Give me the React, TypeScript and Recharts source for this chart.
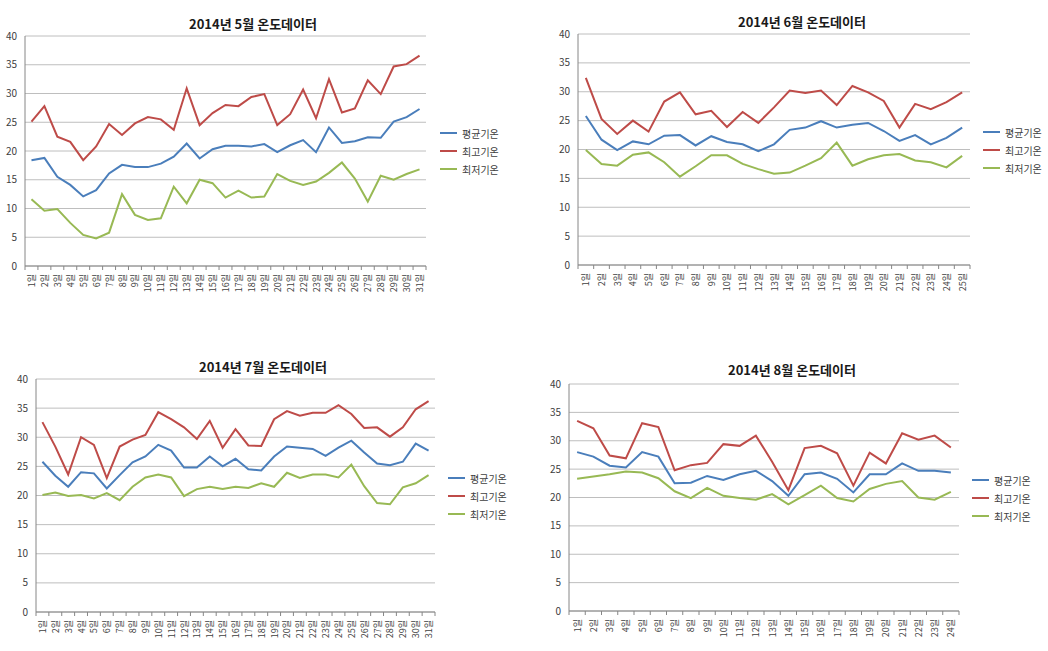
import React from 'react';
import { LineChart, Line, XAxis, YAxis, CartesianGrid, Legend } from 'recharts';

const FONT = '"Noto Sans CJK KR", "Noto Sans", sans-serif';

const seriesNames = ['평균기온', '최고기온', '최저기온'];
const seriesColors = ['#4A7EBB', '#BE4B48', '#98B954'];
const yTicks = [0, 5, 10, 15, 20, 25, 30, 35, 40];

const mayDays = ['1일','2일','3일','4일','5일','6일','7일','8일','9일','10일','11일','12일','13일','14일','15일','16일','17일','18일','19일','20일','21일','22일','23일','24일','25일','26일','27일','28일','29일','30일','31일'];
const mayAvg = [18.4,18.8,15.5,14.1,12.1,13.2,16.1,17.6,17.2,17.2,17.8,19.0,21.3,18.7,20.3,20.9,20.9,20.8,21.2,19.8,21.0,21.9,19.8,24.1,21.4,21.7,22.4,22.3,25.1,25.9,27.3];
const mayMax = [25.1,27.8,22.5,21.6,18.4,20.8,24.7,22.8,24.8,25.9,25.5,23.7,30.9,24.5,26.6,28.0,27.8,29.4,29.9,24.5,26.4,30.7,25.7,32.5,26.7,27.4,32.3,29.9,34.7,35.1,36.6];
const mayMin = [11.6,9.6,9.9,7.5,5.4,4.8,5.8,12.5,8.9,8.0,8.3,13.8,10.9,15.0,14.4,11.9,13.1,11.9,12.1,16.0,14.8,14.1,14.7,16.2,18.0,15.2,11.2,15.7,15.0,16.0,16.8];

const junDays = ['1일','2일','3일','4일','5일','6일','7일','8일','9일','10일','11일','12일','13일','14일','15일','16일','17일','18일','19일','20일','21일','22일','23일','24일','25일'];
const junAvg = [25.8,21.7,19.9,21.4,20.9,22.4,22.5,20.7,22.3,21.3,20.9,19.7,20.9,23.4,23.8,24.9,23.8,24.3,24.6,23.2,21.5,22.5,20.9,22.0,23.8];
const junMax = [32.4,25.3,22.7,25.0,23.1,28.3,29.9,26.1,26.7,23.9,26.5,24.6,27.3,30.2,29.8,30.2,27.7,31.0,29.9,28.4,23.8,27.9,27.0,28.2,29.9];
const junMin = [19.9,17.5,17.2,19.1,19.5,17.8,15.3,17.1,19.0,19.0,17.5,16.6,15.8,16.0,17.2,18.5,21.2,17.2,18.3,19.0,19.2,18.1,17.8,16.9,18.9];

const julDays = ['1일','2일','3일','4일','5일','6일','7일','8일','9일','10일','11일','12일','13일','14일','15일','16일','17일','18일','19일','20일','21일','22일','23일','24일','25일','26일','27일','28일','29일','30일','31일'];
const julAvg = [25.8,23.4,21.5,24.0,23.8,21.2,23.5,25.7,26.7,28.7,27.7,24.8,24.8,26.7,25.0,26.3,24.5,24.3,26.7,28.4,28.2,28.0,26.8,28.2,29.4,27.4,25.5,25.2,25.8,28.9,27.7];
const julMax = [32.6,28.4,23.6,30.0,28.7,23.0,28.4,29.6,30.4,34.3,33.1,31.7,29.7,32.8,28.2,31.4,28.6,28.5,33.1,34.5,33.7,34.2,34.2,35.5,34.0,31.6,31.7,30.1,31.7,34.8,36.2];
const julMin = [20.1,20.5,19.9,20.1,19.5,20.4,19.2,21.5,23.1,23.6,23.1,19.9,21.1,21.5,21.1,21.5,21.3,22.1,21.5,23.9,23.0,23.6,23.6,23.1,25.3,21.6,18.7,18.5,21.4,22.1,23.5];

const augDays = ['1일','2일','3일','4일','5일','6일','7일','8일','9일','10일','11일','12일','13일','14일','15일','16일','17일','18일','19일','20일','21일','22일','23일','24일'];
const augAvg = [28.0,27.2,25.6,25.3,28.0,27.2,22.5,22.6,23.8,23.1,24.1,24.7,22.9,20.3,24.1,24.4,23.3,20.9,24.1,24.1,26.0,24.7,24.7,24.4];
const augMax = [33.5,32.2,27.4,26.9,33.1,32.4,24.8,25.7,26.1,29.4,29.1,30.9,26.3,21.3,28.7,29.1,27.8,22.1,27.9,26.0,31.3,30.2,30.9,28.8];
const augMin = [23.3,23.7,24.1,24.6,24.4,23.4,21.1,19.9,21.7,20.3,19.9,19.6,20.6,18.8,20.4,22.1,19.9,19.3,21.5,22.4,22.9,20.0,19.6,21.0];

const buildRows = (days: string[], avg: number[], max: number[], min: number[]) =>
  days.map((d, i) => ({ day: d, avg: avg[i], max: max[i], min: min[i] }));

type PanelProps = {
  left: number; top: number; width: number; height: number;
  plotLeft: number; plotRight: number; plotTop: number; plotBottom: number;
  title: string; titleX: number; titleY: number;
  legendX: number; legendY: number;
  rows: any[];
};

const LegendContent = () => (
  <div style={{ fontFamily: FONT, fontSize: 10, color: '#404040' }}>
    {seriesNames.map((n, i) => (
      <div key={n} style={{ display: 'flex', alignItems: 'center', height: 18, whiteSpace: 'nowrap' }}>
        <span style={{ display: 'inline-block', width: 17, height: 2, background: seriesColors[i], marginRight: 5 }} />
        <span>{n}</span>
      </div>
    ))}
  </div>
);

const Panel = (p: PanelProps) => {
  const plotW = p.width - p.plotLeft - p.plotRight;
  const band = plotW / p.rows.length;
  const XTick = (props: any) => {
    const { x, y, payload, index } = props;
    return (
      <g>
        {index === 0 && (
          <line x1={x - band / 2} x2={x - band / 2} y1={y} y2={y + 4} stroke="#868686" />
        )}
        <line x1={x + band / 2} x2={x + band / 2} y1={y} y2={y + 4} stroke="#868686" />
        <text
          transform={`translate(${x},${y + 8}) rotate(-90)`}
          textAnchor="end"
          dominantBaseline="central"
          fontSize={9}
          fill="#404040"
          fontFamily={FONT}
        >
          {payload.value}
        </text>
      </g>
    );
  };
  return (
    <div style={{ position: 'absolute', left: p.left, top: p.top, width: p.width, height: p.height }}>
      <div
        style={{
          position: 'absolute', left: p.titleX, top: p.titleY, transform: 'translate(-50%, -50%)',
          fontFamily: FONT, fontWeight: 700, fontSize: 13, color: '#1a1a1a', whiteSpace: 'nowrap',
        }}
      >
        {p.title}
      </div>
      <LineChart
        width={p.width}
        height={p.height}
        data={p.rows}
        margin={{ top: p.plotTop, right: p.plotRight, left: 0, bottom: 0 }}
        style={{ position: 'absolute', left: 0, top: 0 }}
      >
        <CartesianGrid vertical={false} stroke="#BEBEBE" strokeWidth={1} />
        <XAxis
          dataKey="day"
          interval={0}
          height={p.height - p.plotBottom}
          padding={{ left: band / 2, right: band / 2 }}
          tickLine={false}
          tickSize={0}
          tickMargin={0}
          axisLine={{ stroke: '#868686' }}
          tick={<XTick />}
        />
        <YAxis
          width={p.plotLeft}
          domain={[0, 40]}
          ticks={yTicks}
          interval={0}
          tickLine={false}
          tickSize={0}
          tickMargin={8}
          axisLine={{ stroke: '#868686' }}
          tick={{ fontSize: 10, fill: '#404040', fontFamily: FONT }}
        />
        <Legend
          layout="vertical"
          align="center"
          verticalAlign="middle"
          content={<LegendContent />}
          wrapperStyle={{ left: p.legendX, top: p.legendY, width: 80, height: 60 }}
        />
        <Line type="linear" dataKey="avg" name={seriesNames[0]} stroke={seriesColors[0]} strokeWidth={2} dot={false} isAnimationActive={false} />
        <Line type="linear" dataKey="max" name={seriesNames[1]} stroke={seriesColors[1]} strokeWidth={2} dot={false} isAnimationActive={false} />
        <Line type="linear" dataKey="min" name={seriesNames[2]} stroke={seriesColors[2]} strokeWidth={2} dot={false} isAnimationActive={false} />
      </LineChart>
    </div>
  );
};

export default function App() {
  return (
    <div style={{ position: 'absolute', left: 0, top: 0, width: 1048, height: 651, background: '#fff', overflow: 'hidden' }}>
      <Panel
        left={0} top={0} width={520} height={330}
        plotLeft={25} plotRight={94} plotTop={36} plotBottom={266}
        title="2014년 5월 온도데이터" titleX={253} titleY={23}
        legendX={440} legendY={124}
        rows={buildRows(mayDays, mayAvg, mayMax, mayMin)}
      />
      <Panel
        left={520} top={0} width={528} height={330}
        plotLeft={58} plotRight={78} plotTop={34} plotBottom={265}
        title="2014년 6월 온도데이터" titleX={282} titleY={21}
        legendX={463} legendY={123}
        rows={buildRows(junDays, junAvg, junMax, junMin)}
      />
      <Panel
        left={0} top={340} width={520} height={311}
        plotLeft={36} plotRight={85} plotTop={39} plotBottom={272}
        title="2014년 7월 온도데이터" titleX={263} titleY={26}
        legendX={448} legendY={129}
        rows={buildRows(julDays, julAvg, julMax, julMin)}
      />
      <Panel
        left={520} top={340} width={528} height={311}
        plotLeft={49} plotRight={89} plotTop={44} plotBottom={271}
        title="2014년 8월 온도데이터" titleX={272} titleY={29}
        legendX={452} legendY={131}
        rows={buildRows(augDays, augAvg, augMax, augMin)}
      />
    </div>
  );
}
